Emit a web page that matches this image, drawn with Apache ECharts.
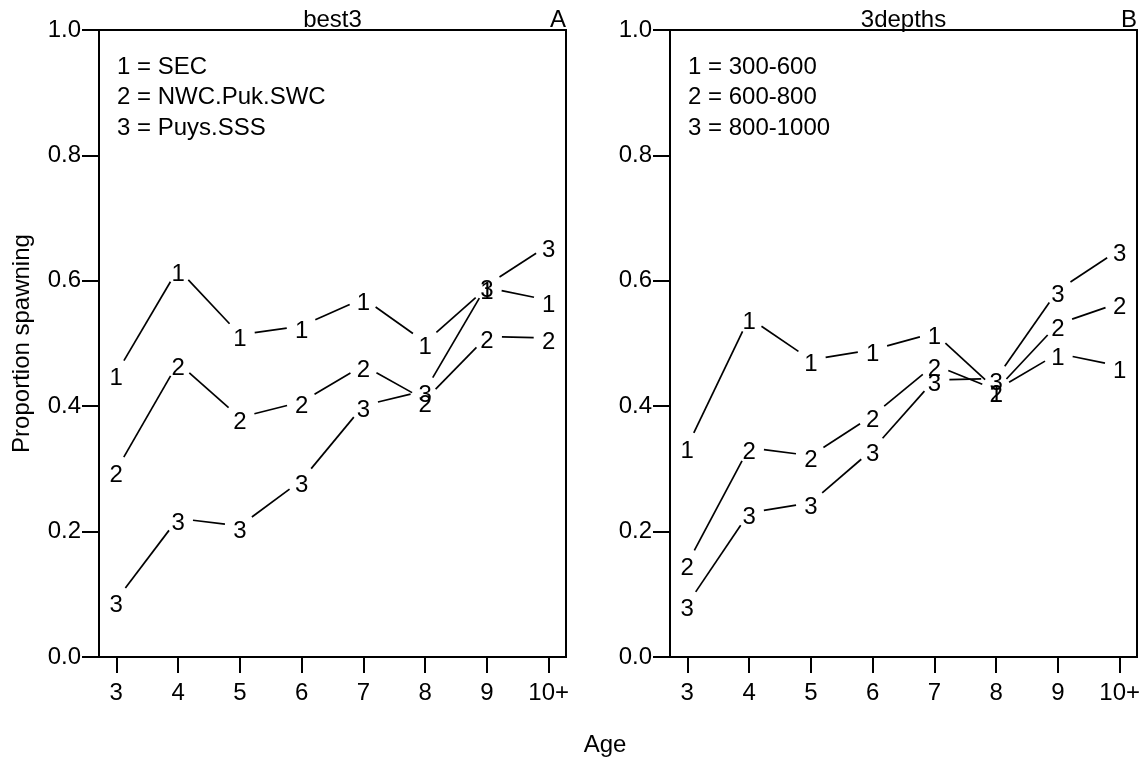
<!DOCTYPE html>
<html>
<head>
<meta charset="utf-8">
<script src="https://cdn.jsdelivr.net/npm/echarts@6/dist/echarts.min.js"></script>
<style>
html,body{margin:0;padding:0;background:#fff;}
#chart{width:1148px;height:765px;}
</style>
</head>
<body>
<div id="chart"></div>
<script>
// ---- data ----
const ages = [3, 4, 5, 6, 7, 8, 9, 10];
const ageLabels = ['3', '4', '5', '6', '7', '8', '9', '10+'];
const yTicks = [0, 0.2, 0.4, 0.6, 0.8, 1.0];

const panelTitles = ['best3', '3depths'];
const panelLetters = ['A', 'B'];
const legendBest3 = ['1 = SEC', '2 = NWC.Puk.SWC', '3 = Puys.SSS'];
const legendDepths = ['1 = 300-600', '2 = 600-800', '3 = 800-1000'];

// best3 panel
const best3_1 = [0.452, 0.619, 0.514, 0.528, 0.572, 0.502, 0.589, 0.569];
const best3_2 = [0.298, 0.469, 0.382, 0.407, 0.465, 0.410, 0.511, 0.509];
const best3_3 = [0.091, 0.221, 0.209, 0.282, 0.401, 0.425, 0.593, 0.657];
// 3depths panel
const depth_1 = [0.336, 0.541, 0.474, 0.490, 0.517, 0.426, 0.484, 0.464];
const depth_2 = [0.149, 0.334, 0.321, 0.385, 0.466, 0.426, 0.531, 0.565];
const depth_3 = [0.084, 0.230, 0.246, 0.331, 0.442, 0.444, 0.585, 0.650];

// ---- style ----
const FONT = '"Liberation Sans", Arial, Helvetica, sans-serif';
const FS = 24;
const GAP = 15;
const LABEL_DY = 5;

const chart = echarts.init(document.getElementById('chart'), null, {renderer: 'canvas'});

function makeSeries(gi, vals, mark) {
  return {
    type: 'custom',
    xAxisIndex: gi,
    yAxisIndex: gi,
    clip: false,
    data: ages.map((a, i) => [a, vals[i]]),
    encode: {x: 0, y: 1},
    renderItem: function (params, api) {
      const i = params.dataIndex;
      const p = api.coord([api.value(0), api.value(1)]);
      const children = [{
        type: 'text', x: p[0], y: p[1] + LABEL_DY,
        style: {text: mark, fontSize: FS, fontFamily: FONT, fill: '#000', align: 'center', verticalAlign: 'middle'}
      }];
      if (i < ages.length - 1) {
        const q = api.coord([ages[i + 1], vals[i + 1]]);
        const dx = q[0] - p[0], dy = q[1] - p[1], d = Math.hypot(dx, dy);
        if (d > 2 * GAP) {
          const ux = dx / d, uy = dy / d;
          children.push({
            type: 'line',
            shape: {x1: p[0] + ux * GAP, y1: p[1] + uy * GAP, x2: q[0] - ux * GAP, y2: q[1] - uy * GAP},
            style: {stroke: '#000', lineWidth: 1.7}
          });
        }
      }
      return {type: 'group', children: children};
    }
  };
}

function xAxisFor(gi) {
  return {
    type: 'value', gridIndex: gi, min: 2.72, max: 10.28,
    axisLine: {show: true, lineStyle: {color: '#000', width: 2}},
    axisTick: {show: true, inside: false, length: 16, customValues: ages, lineStyle: {color: '#000', width: 2}},
    axisLabel: {
      show: true, customValues: ages, margin: 24,
      formatter: v => ageLabels[ages.indexOf(Math.round(v))],
      fontSize: FS, fontFamily: FONT, color: '#000'
    },
    splitLine: {show: false}
  };
}
function yAxisFor(gi) {
  return {
    type: 'value', gridIndex: gi, min: 0, max: 1, interval: 0.2,
    axisLine: {show: true, lineStyle: {color: '#000', width: 2}},
    axisTick: {show: true, inside: false, length: 17, lineStyle: {color: '#000', width: 2}},
    axisLabel: {
      show: true, margin: 18, formatter: v => v.toFixed(1),
      fontSize: FS, fontFamily: FONT, color: '#000', padding: [8, 0, 0, 0]
    },
    splitLine: {show: false}
  };
}

const grids = [
  {left: 99, top: 30, width: 467, height: 627},
  {left: 670, top: 30, width: 467, height: 627}
];

function txt(x, y, text, align, rot) {
  return {
    type: 'text', x: x, y: y, rotation: rot || 0,
    style: {text: text, fontSize: FS, fontFamily: FONT, fill: '#000', align: align || 'left', verticalAlign: 'middle'}
  };
}

const graphics = [];
const legends = [legendBest3, legendDepths];
grids.forEach((g, gi) => {
  graphics.push(txt(g.left + g.width / 2, 20.5, panelTitles[gi], 'center'));
  graphics.push(txt(g.left + g.width, 20.5, panelLetters[gi], 'right'));
  legends[gi].forEach((t, k) => graphics.push(txt(g.left + 18, 67 + k * 30.5, t, 'left')));
});
graphics.push(txt(605, 745, 'Age', 'center'));
graphics.push(txt(22, 343.5, 'Proportion spawning', 'center', Math.PI / 2));

chart.setOption({
  backgroundColor: '#fff',
  animation: false,
  grid: grids.map(g => Object.assign({show: true, borderColor: '#000', borderWidth: 2, backgroundColor: 'transparent'}, g)),
  xAxis: [xAxisFor(0), xAxisFor(1)],
  yAxis: [yAxisFor(0), yAxisFor(1)],
  graphic: graphics,
  series: [
    makeSeries(0, best3_1, '1'),
    makeSeries(0, best3_2, '2'),
    makeSeries(0, best3_3, '3'),
    makeSeries(1, depth_1, '1'),
    makeSeries(1, depth_2, '2'),
    makeSeries(1, depth_3, '3')
  ]
});
</script>
</body>
</html>
